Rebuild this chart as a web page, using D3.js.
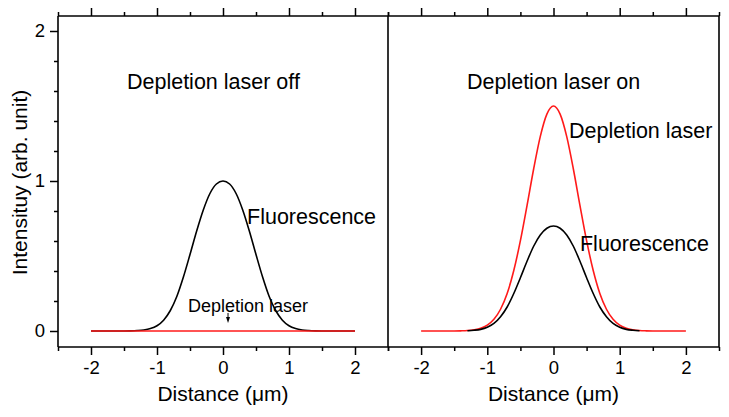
<!DOCTYPE html>
<html>
<head>
<meta charset="utf-8">
<script src="https://cdn.jsdelivr.net/npm/d3@7"></script>
<style>
  html, body { margin: 0; padding: 0; background: #fff; }
  svg { display: block; }
  text { font-family: "Liberation Sans", Arial, Helvetica, sans-serif; fill: #000; }
</style>
</head>
<body>
<svg id="chart" width="729" height="417"></svg>
<script>
// ---------------- data ----------------
const distance = [-2.0,-1.9,-1.8,-1.7,-1.6,-1.5,-1.4,-1.3,-1.2,-1.1,-1.0,-0.9,-0.8,-0.7,-0.6,-0.5,-0.4,-0.3,-0.2,-0.1,
                  0.0,0.1,0.2,0.3,0.4,0.5,0.6,0.7,0.8,0.9,1.0,1.1,1.2,1.3,1.4,1.5,1.6,1.7,1.8,1.9,2.0];
// left panel: depletion laser off
const fluorescenceOff = [0,0,0,0,0,0,0.001,0.003,0.007,0.016,0.035,0.072,0.135,0.23,0.36,0.51,0.665,0.805,0.915,0.98,
                         1.0,0.98,0.915,0.805,0.665,0.51,0.36,0.23,0.135,0.072,0.035,0.016,0.007,0.003,0.001,0,0,0,0,0,0];
const depletionOff = [0,0,0,0,0,0,0,0,0,0,0,0,0,0,0,0,0,0,0,0,0,0,0,0,0,0,0,0,0,0,0,0,0,0,0,0,0,0,0,0,0];
// right panel: depletion laser on
const depletionOn = [0,0,0,0,0,0,0.001,0.003,0.008,0.018,0.039,0.078,0.145,0.25,0.403,0.602,0.836,1.08,1.296,1.446,
                     1.5,1.446,1.296,1.08,0.836,0.602,0.403,0.25,0.145,0.078,0.039,0.018,0.008,0.003,0.001,0,0,0,0,0,0];
const distanceFluorOn = [-1.3,-1.2,-1.1,-1.0,-0.9,-0.8,-0.7,-0.6,-0.5,-0.4,-0.3,-0.2,-0.1,0.0,
                         0.1,0.2,0.3,0.4,0.5,0.6,0.7,0.8,0.9,1.0,1.1,1.2,1.3];
const fluorescenceOn = [0.002,0.005,0.011,0.025,0.05,0.095,0.16,0.25,0.355,0.465,0.565,0.64,0.685,0.70,
                        0.685,0.64,0.565,0.465,0.355,0.25,0.16,0.095,0.05,0.025,0.011,0.005,0.002];

const xMajorTicks = [-2,-1,0,1,2];
const xMinorTicks = [-2.5,-1.5,-0.5,0.5,1.5,2.5];
const yMajorTicks = [0,1,2];
const yMinorTicks = [0.2,0.4,0.6,0.8,1.2,1.4,1.6,1.8];
const xTitle = "Distance (\u03bcm)";
const yTitle = "Intensituy (arb. unit)";

// annotations in data coordinates
const leftLabels = [
  {text: "Depletion laser off", x: -1.455, y: 1.613, size: 21.5},
  {text: "Fluorescence", x: 0.364, y: 0.713, size: 21.5},
  {text: "Depletion laser", x: -0.53, y: 0.127, size: 18}
];
const rightLabels = [
  {text: "Depletion laser on", x: -1.307, y: 1.613, size: 21.5},
  {text: "Depletion laser", x: 0.234, y: 1.287, size: 21.5},
  {text: "Fluorescence", x: 0.40, y: 0.533, size: 21.5}
];
const arrowLeft = {x: 0.076, yTop: 0.12, yTip: 0.053};

// ---------------- layout ----------------
const svg = d3.select("#chart");
const pTop = 16, pBottom = 347, pLeft = 58, pMid = 388, pRight = 719;

const xL = d3.scaleLinear().domain([-2.5, 2.5]).range([pLeft, pMid]);
const xR = d3.scaleLinear().domain([-2.5, 2.5]).range([pMid, pRight]);
const y = d3.scaleLinear().domain([-0.1067, 2.1]).range([pBottom, pTop]);

const RED = "#ff1a1a";

function styleTicks(sel) {
  sel.select(".domain").remove();
  sel.selectAll("line").attr("stroke", "#000").attr("stroke-width", 1.5);
}

function drawPanel(x) {
  const g = svg.append("g");
  const bMaj = g.append("g").attr("transform", `translate(0,${pBottom})`)
    .call(d3.axisBottom(x).tickValues(xMajorTicks).tickSize(8).tickSizeOuter(0).tickPadding(6)
      .tickFormat(d => d < 0 ? "-" + Math.abs(d) : String(d)));
  styleTicks(bMaj);
  bMaj.selectAll("text").style("font-size", "18.5px").style("font-family", '"Liberation Sans", Arial, sans-serif');
  const bMin = g.append("g").attr("transform", `translate(0,${pBottom})`)
    .call(d3.axisBottom(x).tickValues(xMinorTicks).tickSize(4).tickSizeOuter(0).tickFormat(""));
  styleTicks(bMin);
  const tMaj = g.append("g").attr("transform", `translate(0,${pTop})`)
    .call(d3.axisTop(x).tickValues(xMajorTicks).tickSize(8).tickSizeOuter(0).tickFormat(""));
  styleTicks(tMaj);
  const tMin = g.append("g").attr("transform", `translate(0,${pTop})`)
    .call(d3.axisTop(x).tickValues(xMinorTicks).tickSize(4).tickSizeOuter(0).tickFormat(""));
  styleTicks(tMin);

  g.append("text").attr("x", x(0)).attr("y", 401).attr("text-anchor", "middle")
    .style("font-size", "21px").text(xTitle);
  return g;
}

drawPanel(xL);
drawPanel(xR);

// left axis
const lMaj = svg.append("g").attr("transform", `translate(${pLeft},0)`)
  .call(d3.axisLeft(y).tickValues(yMajorTicks).tickSize(8).tickSizeOuter(0).tickPadding(5).tickFormat(d3.format("d")));
styleTicks(lMaj);
lMaj.selectAll("text").style("font-size", "18.5px").style("font-family", '"Liberation Sans", Arial, sans-serif');
const lMin = svg.append("g").attr("transform", `translate(${pLeft},0)`)
  .call(d3.axisLeft(y).tickValues(yMinorTicks).tickSize(4).tickSizeOuter(0).tickFormat(""));
styleTicks(lMin);

// y title
svg.append("text").attr("transform", `translate(27,${(pTop + pBottom) / 2 + 1}) rotate(-90)`)
  .attr("text-anchor", "middle").style("font-size", "21px").text(yTitle);

// curves
const lineL = d3.line().x(d => xL(d[0])).y(d => y(d[1])).curve(d3.curveMonotoneX);
const lineR = d3.line().x(d => xR(d[0])).y(d => y(d[1])).curve(d3.curveMonotoneX);

svg.append("path").datum(d3.zip(distance, fluorescenceOff)).attr("d", lineL)
  .attr("fill", "none").attr("stroke", "#000").attr("stroke-width", 1.6);
svg.append("path").datum(d3.zip(distance, depletionOff)).attr("d", lineL)
  .attr("fill", "none").attr("stroke", RED).attr("stroke-width", 1.6);

svg.append("path").datum(d3.zip(distance, depletionOn)).attr("d", lineR)
  .attr("fill", "none").attr("stroke", RED).attr("stroke-width", 1.6);
svg.append("path").datum(d3.zip(distanceFluorOn, fluorescenceOn)).attr("d", lineR)
  .attr("fill", "none").attr("stroke", "#000").attr("stroke-width", 1.6);

// frame lines
const frame = svg.append("g").attr("stroke", "#000").attr("stroke-width", 1.6).attr("fill", "none");
frame.append("line").attr("x1", pLeft).attr("x2", pRight).attr("y1", pTop).attr("y2", pTop);
frame.append("line").attr("x1", pLeft).attr("x2", pRight).attr("y1", pBottom).attr("y2", pBottom);
frame.append("line").attr("x1", pLeft).attr("x2", pLeft).attr("y1", pTop).attr("y2", pBottom);
frame.append("line").attr("x1", pMid).attr("x2", pMid).attr("y1", pTop).attr("y2", pBottom);
frame.append("line").attr("x1", pRight).attr("x2", pRight).attr("y1", pTop).attr("y2", pBottom);

// annotations
leftLabels.forEach(l => {
  svg.append("text").attr("x", xL(l.x)).attr("y", y(l.y)).style("font-size", l.size + "px").text(l.text);
});
rightLabels.forEach(l => {
  svg.append("text").attr("x", xR(l.x)).attr("y", y(l.y)).style("font-size", l.size + "px").text(l.text);
});
// arrow
const ax = xL(arrowLeft.x), ay1 = y(arrowLeft.yTop), ay2 = y(arrowLeft.yTip);
svg.append("line").attr("x1", ax).attr("x2", ax).attr("y1", ay1).attr("y2", ay2 - 4)
  .attr("stroke", "#000").attr("stroke-width", 1);
svg.append("path").attr("d", `M${ax - 2},${ay2 - 6} L${ax + 2},${ay2 - 6} L${ax},${ay2} Z`).attr("fill", "#000");
</script>
</body>
</html>
